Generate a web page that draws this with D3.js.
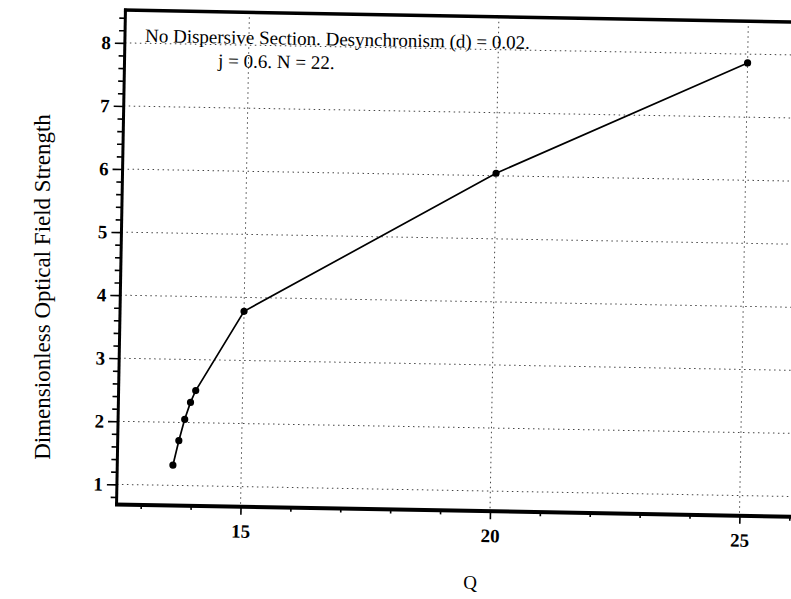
<!DOCTYPE html>
<html>
<head>
<meta charset="utf-8">
<script src="https://cdn.jsdelivr.net/npm/d3@7"></script>
<style>
  html, body { margin: 0; padding: 0; background: #fff; }
  svg { display: block; }
  text { font-family: "Liberation Serif", "Times New Roman", serif; fill: #000; }
</style>
</head>
<body>
<svg id="chart" width="791" height="599"></svg>
<script>
// ---- data ----
const qValues = [13.63, 13.74, 13.85, 13.96, 14.06, 15.0, 20.0, 25.0];
const fieldStrength = [1.32, 1.71, 2.05, 2.32, 2.51, 3.78, 6.04, 7.86];
const xMajorTicks = [15, 20, 25];
const xMinorTicks = [13, 14, 16, 17, 18, 19, 21, 22, 23, 24, 26];
const yMajorTicks = [1, 2, 3, 4, 5, 6, 7, 8];
const yMinorStep = 0.2;
const titleLines = ["No Dispersive Section. Desynchronism (d) = 0.02.", "j = 0.6. N = 22."];
const xTitle = "Q";
const yTitle = "Dimensionless Optical Field Strength";

// ---- layout ----
const svg = d3.select("#chart");
const plotLeft = 121, plotBottom = 510.5, plotTop = 16, plotRight = 815;
const x = d3.scaleLinear().domain([15, 25]).range([245, 744]);
const y = d3.scaleLinear().domain([0.68, 8.52]).range([plotBottom, plotTop]);

// slight scan rotation
const g = svg.append("g").attr("transform", "rotate(1.03, 450, 260)");

// grid (dotted)
const gridStyle = sel => sel.attr("stroke", "#444").attr("stroke-width", 1)
  .attr("stroke-dasharray", "1.5,3.5").attr("fill", "none");
g.append("g").selectAll("line").data(yMajorTicks).join("line")
  .attr("x1", plotLeft).attr("x2", plotRight)
  .attr("y1", d => y(d)).attr("y2", d => y(d)).call(gridStyle);
g.append("g").selectAll("line").data(xMajorTicks).join("line")
  .attr("x1", d => x(d)).attr("x2", d => x(d))
  .attr("y1", plotTop).attr("y2", plotBottom).call(gridStyle);

// axes ticks via d3 axes
const yMinor = d3.range(0.8, 8.5, yMinorStep).filter(v => Math.abs(v - Math.round(v)) > 0.01);
const yMinorAxis = d3.axisLeft(y).tickValues(yMinor).tickSize(6).tickFormat("");
const yMajorAxis = d3.axisLeft(y).tickValues(yMajorTicks).tickSize(10).tickPadding(4).tickFormat(d3.format("d"));
const xMinorAxis = d3.axisBottom(x).tickValues(xMinorTicks).tickSize(4).tickFormat("");
const xMajorAxis = d3.axisBottom(x).tickValues(xMajorTicks).tickSize(8).tickFormat(d3.format("d"));

function styleAxis(sel) {
  sel.select(".domain").remove();
  sel.selectAll(".tick line").attr("stroke", "#000").attr("stroke-width", 1.6);
  sel.selectAll("text").attr("font-family", '"Liberation Serif", "Times New Roman", serif')
    .attr("font-size", 19).attr("font-weight", "bold").attr("fill", "#000");
}
g.append("g").attr("transform", `translate(${plotLeft},0)`).call(yMinorAxis).call(styleAxis);
g.append("g").attr("transform", `translate(${plotLeft},0)`).call(yMajorAxis).call(styleAxis);
g.append("g").attr("transform", `translate(0,${plotBottom})`).call(xMinorAxis).call(styleAxis);
const xa = g.append("g").attr("transform", `translate(0,${plotBottom})`).call(xMajorAxis).call(styleAxis);
xa.selectAll("text").attr("y", 31).attr("dy", null);

// frame lines (thick)
g.append("line").attr("x1", plotLeft).attr("x2", plotLeft).attr("y1", plotTop - 1.5).attr("y2", plotBottom + 1.5)
  .attr("stroke", "#000").attr("stroke-width", 3);
g.append("line").attr("x1", plotLeft - 1.5).attr("x2", plotRight).attr("y1", plotBottom).attr("y2", plotBottom)
  .attr("stroke", "#000").attr("stroke-width", 4);
g.append("line").attr("x1", plotLeft - 1.5).attr("x2", plotRight).attr("y1", plotTop).attr("y2", plotTop)
  .attr("stroke", "#000").attr("stroke-width", 3.5);

// data line + markers
const pts = qValues.map((q, i) => [q, fieldStrength[i]]);
g.append("path").datum(pts)
  .attr("d", d3.line().x(d => x(d[0])).y(d => y(d[1])))
  .attr("fill", "none").attr("stroke", "#000").attr("stroke-width", 1.7);
g.append("g").selectAll("circle").data(pts).join("circle")
  .attr("cx", d => x(d[0])).attr("cy", d => y(d[1])).attr("r", 3.6).attr("fill", "#000");

// in-plot title (each line rotated on its own, matching the scan)
svg.append("text").attr("x", 145).attr("y", 42).attr("font-size", 19)
  .attr("transform", "rotate(1.03, 145, 42)").text(titleLines[0]);
svg.append("text").attr("x", 218).attr("y", 67).attr("font-size", 19)
  .attr("transform", "rotate(1.03, 218, 67)").text(titleLines[1]);

// axis titles
svg.append("text").attr("x", 470).attr("y", 589).attr("text-anchor", "middle")
  .attr("font-size", 19).text(xTitle);
svg.append("text").attr("transform", "translate(50,287) rotate(-90)").attr("text-anchor", "middle")
  .attr("font-size", 23).text(yTitle);
</script>
</body>
</html>
